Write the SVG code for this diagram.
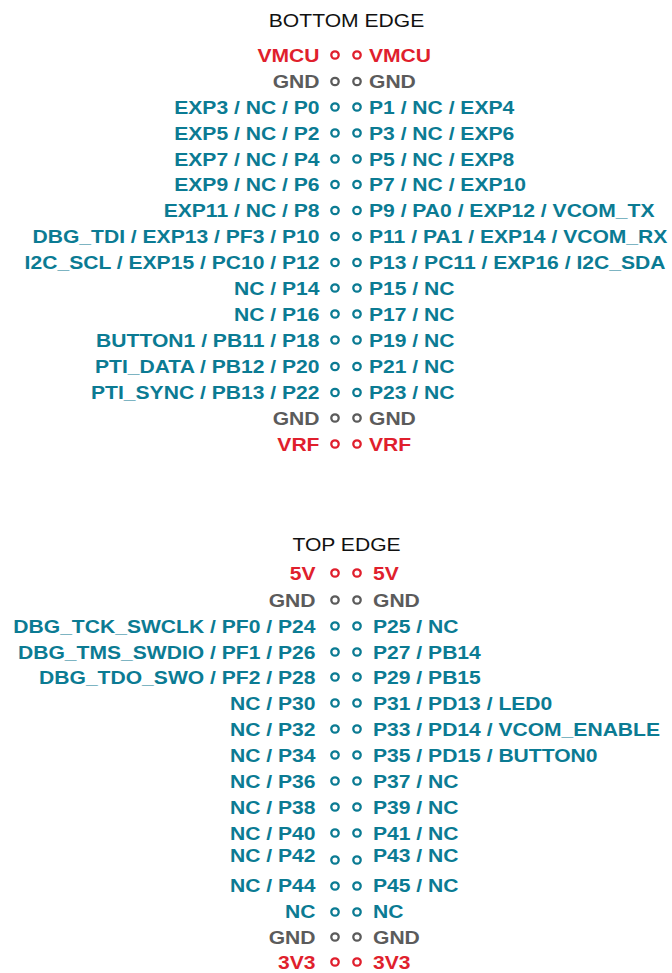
<svg xmlns="http://www.w3.org/2000/svg" width="672" height="973" viewBox="0 0 672 973">
<style>
text{font-family:"Liberation Sans",Arial,sans-serif;font-size:18.5px}
.t{fill:#111;text-anchor:middle}
.l,.r{font-weight:bold}
.l{text-anchor:end}
.r{text-anchor:start}
.c{fill:#0b7b93}
.red{fill:#e01f2d}
.g{fill:#5b5b5b}
circle.c,circle.red,circle.g{fill:#fff;stroke-width:2.3}
circle.c{stroke:#0b7b93}
circle.red{stroke:#e01f2d}
circle.g{stroke:#5b5b5b}
</style>
<rect width="672" height="973" fill="#fff"/>
<g id="bottom-title"><text class="t" transform="translate(346.5,27) scale(1.14,1)">BOTTOM EDGE</text></g>
<g id="bottom-edge">
<g id="b0"><text class="l red" transform="translate(319.5,61.5) scale(1.14,1)">VMCU</text><circle class="red" cx="335" cy="55" r="3.7"/><circle class="red" cx="357" cy="55" r="3.7"/><text class="r red" transform="translate(369,61.5) scale(1.14,1)">VMCU</text></g>
<g id="b1"><text class="l g" transform="translate(319.5,88) scale(1.14,1)">GND</text><circle class="g" cx="335" cy="81.5" r="3.7"/><circle class="g" cx="357" cy="81.5" r="3.7"/><text class="r g" transform="translate(369,88) scale(1.14,1)">GND</text></g>
<g id="b2"><text class="l c" transform="translate(319.5,113.5) scale(1.14,1)">EXP3 / NC / P0</text><circle class="c" cx="335" cy="107" r="3.7"/><circle class="c" cx="357" cy="107" r="3.7"/><text class="r c" transform="translate(369,113.5) scale(1.14,1)">P1 / NC / EXP4</text></g>
<g id="b3"><text class="l c" transform="translate(319.5,139.5) scale(1.14,1)">EXP5 / NC / P2</text><circle class="c" cx="335" cy="133" r="3.7"/><circle class="c" cx="357" cy="133" r="3.7"/><text class="r c" transform="translate(369,139.5) scale(1.14,1)">P3 / NC / EXP6</text></g>
<g id="b4"><text class="l c" transform="translate(319.5,165.5) scale(1.14,1)">EXP7 / NC / P4</text><circle class="c" cx="335" cy="159" r="3.7"/><circle class="c" cx="357" cy="159" r="3.7"/><text class="r c" transform="translate(369,165.5) scale(1.14,1)">P5 / NC / EXP8</text></g>
<g id="b5"><text class="l c" transform="translate(319.5,191) scale(1.14,1)">EXP9 / NC / P6</text><circle class="c" cx="335" cy="184.5" r="3.7"/><circle class="c" cx="357" cy="184.5" r="3.7"/><text class="r c" transform="translate(369,191) scale(1.14,1)">P7 / NC / EXP10</text></g>
<g id="b6"><text class="l c" transform="translate(319.5,217) scale(1.14,1)">EXP11 / NC / P8</text><circle class="c" cx="335" cy="210.5" r="3.7"/><circle class="c" cx="357" cy="210.5" r="3.7"/><text class="r c" transform="translate(369,217) scale(1.14,1)">P9 / PA0 / EXP12 / VCOM_TX</text></g>
<g id="b7"><text class="l c" transform="translate(319.5,243) scale(1.14,1)">DBG_TDI / EXP13 / PF3 / P10</text><circle class="c" cx="335" cy="236.5" r="3.7"/><circle class="c" cx="357" cy="236.5" r="3.7"/><text class="r c" transform="translate(369,243) scale(1.14,1)">P11 / PA1 / EXP14 / VCOM_RX</text></g>
<g id="b8"><text class="l c" transform="translate(319.5,269) scale(1.14,1)">I2C_SCL / EXP15 / PC10 / P12</text><circle class="c" cx="335" cy="262.5" r="3.7"/><circle class="c" cx="357" cy="262.5" r="3.7"/><text class="r c" transform="translate(369,269) scale(1.14,1)">P13 / PC11 / EXP16 / I2C_SDA</text></g>
<g id="b9"><text class="l c" transform="translate(319.5,294.5) scale(1.14,1)">NC / P14</text><circle class="c" cx="335" cy="288" r="3.7"/><circle class="c" cx="357" cy="288" r="3.7"/><text class="r c" transform="translate(369,294.5) scale(1.14,1)">P15 / NC</text></g>
<g id="b10"><text class="l c" transform="translate(319.5,320.5) scale(1.14,1)">NC / P16</text><circle class="c" cx="335" cy="314" r="3.7"/><circle class="c" cx="357" cy="314" r="3.7"/><text class="r c" transform="translate(369,320.5) scale(1.14,1)">P17 / NC</text></g>
<g id="b11"><text class="l c" transform="translate(319.5,346.5) scale(1.14,1)">BUTTON1 / PB11 / P18</text><circle class="c" cx="335" cy="340" r="3.7"/><circle class="c" cx="357" cy="340" r="3.7"/><text class="r c" transform="translate(369,346.5) scale(1.14,1)">P19 / NC</text></g>
<g id="b12"><text class="l c" transform="translate(319.5,373) scale(1.14,1)">PTI_DATA / PB12 / P20</text><circle class="c" cx="335" cy="366.5" r="3.7"/><circle class="c" cx="357" cy="366.5" r="3.7"/><text class="r c" transform="translate(369,373) scale(1.14,1)">P21 / NC</text></g>
<g id="b13"><text class="l c" transform="translate(319.5,399) scale(1.14,1)">PTI_SYNC / PB13 / P22</text><circle class="c" cx="335" cy="392.5" r="3.7"/><circle class="c" cx="357" cy="392.5" r="3.7"/><text class="r c" transform="translate(369,399) scale(1.14,1)">P23 / NC</text></g>
<g id="b14"><text class="l g" transform="translate(319.5,424.5) scale(1.14,1)">GND</text><circle class="g" cx="335" cy="418" r="3.7"/><circle class="g" cx="357" cy="418" r="3.7"/><text class="r g" transform="translate(369,424.5) scale(1.14,1)">GND</text></g>
<g id="b15"><text class="l red" transform="translate(319.5,450.5) scale(1.14,1)">VRF</text><circle class="red" cx="335" cy="444" r="3.7"/><circle class="red" cx="357" cy="444" r="3.7"/><text class="r red" transform="translate(369,450.5) scale(1.14,1)">VRF</text></g>
</g>
<g id="top-title"><text class="t" transform="translate(346.5,551) scale(1.14,1)">TOP EDGE</text></g>
<g id="top-edge">
<g id="t0"><text class="l red" transform="translate(315.5,579.5) scale(1.14,1)">5V</text><circle class="red" cx="335" cy="573" r="3.7"/><circle class="red" cx="357" cy="573" r="3.7"/><text class="r red" transform="translate(373,579.5) scale(1.14,1)">5V</text></g>
<g id="t1"><text class="l g" transform="translate(315.5,606.5) scale(1.14,1)">GND</text><circle class="g" cx="335" cy="600" r="3.7"/><circle class="g" cx="357" cy="600" r="3.7"/><text class="r g" transform="translate(373,606.5) scale(1.14,1)">GND</text></g>
<g id="t2"><text class="l c" transform="translate(315.5,632.5) scale(1.14,1)">DBG_TCK_SWCLK / PF0 / P24</text><circle class="c" cx="335" cy="626" r="3.7"/><circle class="c" cx="357" cy="626" r="3.7"/><text class="r c" transform="translate(373,632.5) scale(1.14,1)">P25 / NC</text></g>
<g id="t3"><text class="l c" transform="translate(315.5,658.5) scale(1.14,1)">DBG_TMS_SWDIO / PF1 / P26</text><circle class="c" cx="335" cy="652" r="3.7"/><circle class="c" cx="357" cy="652" r="3.7"/><text class="r c" transform="translate(373,658.5) scale(1.14,1)">P27 / PB14</text></g>
<g id="t4"><text class="l c" transform="translate(315.5,683.5) scale(1.14,1)">DBG_TDO_SWO / PF2 / P28</text><circle class="c" cx="335" cy="677" r="3.7"/><circle class="c" cx="357" cy="677" r="3.7"/><text class="r c" transform="translate(373,683.5) scale(1.14,1)">P29 / PB15</text></g>
<g id="t5"><text class="l c" transform="translate(315.5,709.5) scale(1.14,1)">NC / P30</text><circle class="c" cx="335" cy="703" r="3.7"/><circle class="c" cx="357" cy="703" r="3.7"/><text class="r c" transform="translate(373,709.5) scale(1.14,1)">P31 / PD13 / LED0</text></g>
<g id="t6"><text class="l c" transform="translate(315.5,735.5) scale(1.14,1)">NC / P32</text><circle class="c" cx="335" cy="729" r="3.7"/><circle class="c" cx="357" cy="729" r="3.7"/><text class="r c" transform="translate(373,735.5) scale(1.14,1)">P33 / PD14 / VCOM_ENABLE</text></g>
<g id="t7"><text class="l c" transform="translate(315.5,761.5) scale(1.14,1)">NC / P34</text><circle class="c" cx="335" cy="755" r="3.7"/><circle class="c" cx="357" cy="755" r="3.7"/><text class="r c" transform="translate(373,761.5) scale(1.14,1)">P35 / PD15 / BUTTON0</text></g>
<g id="t8"><text class="l c" transform="translate(315.5,787.5) scale(1.14,1)">NC / P36</text><circle class="c" cx="335" cy="781" r="3.7"/><circle class="c" cx="357" cy="781" r="3.7"/><text class="r c" transform="translate(373,787.5) scale(1.14,1)">P37 / NC</text></g>
<g id="t9"><text class="l c" transform="translate(315.5,813.5) scale(1.14,1)">NC / P38</text><circle class="c" cx="335" cy="807" r="3.7"/><circle class="c" cx="357" cy="807" r="3.7"/><text class="r c" transform="translate(373,813.5) scale(1.14,1)">P39 / NC</text></g>
<g id="t10"><text class="l c" transform="translate(315.5,839.5) scale(1.14,1)">NC / P40</text><circle class="c" cx="335" cy="833" r="3.7"/><circle class="c" cx="357" cy="833" r="3.7"/><text class="r c" transform="translate(373,839.5) scale(1.14,1)">P41 / NC</text></g>
<g id="t11"><text class="l c" transform="translate(315.5,861.5) scale(1.14,1)">NC / P42</text><circle class="c" cx="335" cy="860" r="3.7"/><circle class="c" cx="357" cy="860" r="3.7"/><text class="r c" transform="translate(373,861.5) scale(1.14,1)">P43 / NC</text></g>
<g id="t12"><text class="l c" transform="translate(315.5,892) scale(1.14,1)">NC / P44</text><circle class="c" cx="335" cy="886" r="3.7"/><circle class="c" cx="357" cy="886" r="3.7"/><text class="r c" transform="translate(373,892) scale(1.14,1)">P45 / NC</text></g>
<g id="t13"><text class="l c" transform="translate(315.5,918) scale(1.14,1)">NC</text><circle class="c" cx="335" cy="912" r="3.7"/><circle class="c" cx="357" cy="912" r="3.7"/><text class="r c" transform="translate(373,918) scale(1.14,1)">NC</text></g>
<g id="t14"><text class="l g" transform="translate(315.5,943.5) scale(1.14,1)">GND</text><circle class="g" cx="335" cy="937" r="3.7"/><circle class="g" cx="357" cy="937" r="3.7"/><text class="r g" transform="translate(373,943.5) scale(1.14,1)">GND</text></g>
<g id="t15"><text class="l red" transform="translate(315.5,968.5) scale(1.14,1)">3V3</text><circle class="red" cx="335" cy="962" r="3.7"/><circle class="red" cx="357" cy="962" r="3.7"/><text class="r red" transform="translate(373,968.5) scale(1.14,1)">3V3</text></g>
</g>
<g id="connectors"/>
</svg>
